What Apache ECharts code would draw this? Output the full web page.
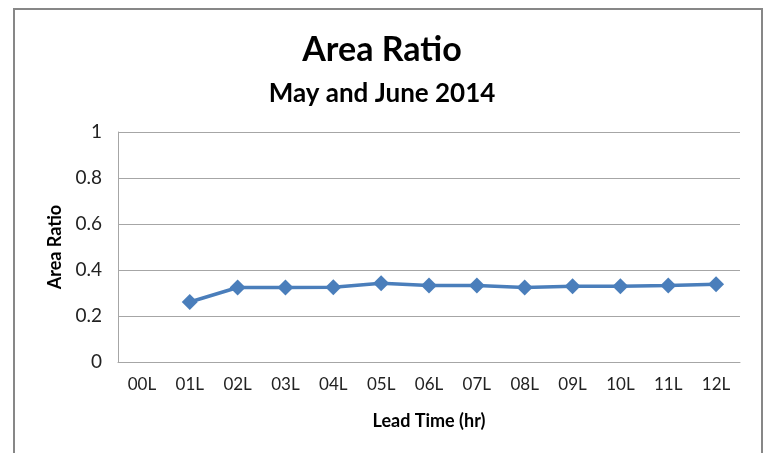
<!DOCTYPE html>
<html>
<head>
<meta charset="utf-8">
<script src="https://cdn.jsdelivr.net/npm/echarts@6/dist/echarts.min.js"></script>
<style>
  html, body { margin: 0; padding: 0; background: #fff; }
  #frame { position: absolute; left: 13px; top: 8px; width: 750px; height: 460px; border: 2px solid #878787; box-sizing: border-box; }
  #chart { position: absolute; left: 0; top: 0; width: 764px; height: 453px; }
</style>
</head>
<body>
<div id="frame"></div>
<div id="chart"></div>
<script>
// lead time categories and area ratio values
var leadTimes = ["00L", "01L", "02L", "03L", "04L", "05L", "06L", "07L", "08L", "09L", "10L", "11L", "12L"];
var areaRatio = [null, 0.261, 0.324, 0.324, 0.325, 0.342, 0.333, 0.333, 0.324, 0.329, 0.329, 0.333, 0.338];
var yTicks = [0, 0.2, 0.4, 0.6, 0.8, 1];

var font = "Lato, 'Open Sans', sans-serif";
var chart = echarts.init(document.getElementById("chart"));
chart.setOption({
    animation: false,
    title: [
        { text: "Area Ratio", left: "center", top: 28, textStyle: { fontFamily: font, fontSize: 34, fontWeight: "bold", color: "#000" } },
        { text: "May and June 2014", left: "center", top: 76, textStyle: { fontFamily: font, fontSize: 26, fontWeight: "bold", color: "#000" } }
    ],
    grid: { left: 118, right: 24, top: 132, bottom: 91 },
    xAxis: {
        type: "category",
        data: leadTimes,
        boundaryGap: true,
        name: "Lead Time (hr)",
        nameLocation: "middle",
        nameGap: 50,
        nameTextStyle: { fontFamily: font, fontSize: 18, fontWeight: "bold", color: "#000" },
        axisLine: { lineStyle: { color: "#a6a6a6", width: 1 } },
        axisTick: { show: false },
        axisLabel: { fontFamily: font, fontSize: 17, color: "#222", margin: 14 }
    },
    yAxis: {
        type: "value",
        min: 0,
        max: 1,
        interval: 0.2,
        name: "Area Ratio",
        nameLocation: "middle",
        nameGap: 52,
        nameTextStyle: { fontFamily: font, fontSize: 18, fontWeight: "bold", color: "#000" },
        axisLine: { show: true, lineStyle: { color: "#a6a6a6", width: 1 } },
        axisTick: { show: false },
        splitLine: { lineStyle: { color: "#a6a6a6", width: 1 } },
        axisLabel: {
            fontFamily: font, fontSize: 19, color: "#222", margin: 16,
            formatter: function (v) {
                for (var i = 0; i < yTicks.length; i++) {
                    if (Math.abs(v - yTicks[i]) < 1e-9) return String(yTicks[i]);
                }
                return "";
            }
        }
    },
    series: [{
        type: "line",
        data: areaRatio,
        connectNulls: false,
        symbol: "diamond",
        symbolSize: 16,
        lineStyle: { color: "#4a7ebb", width: 3.5 },
        itemStyle: { color: "#4a7ebb" }
    }]
});
</script>
</body>
</html>
